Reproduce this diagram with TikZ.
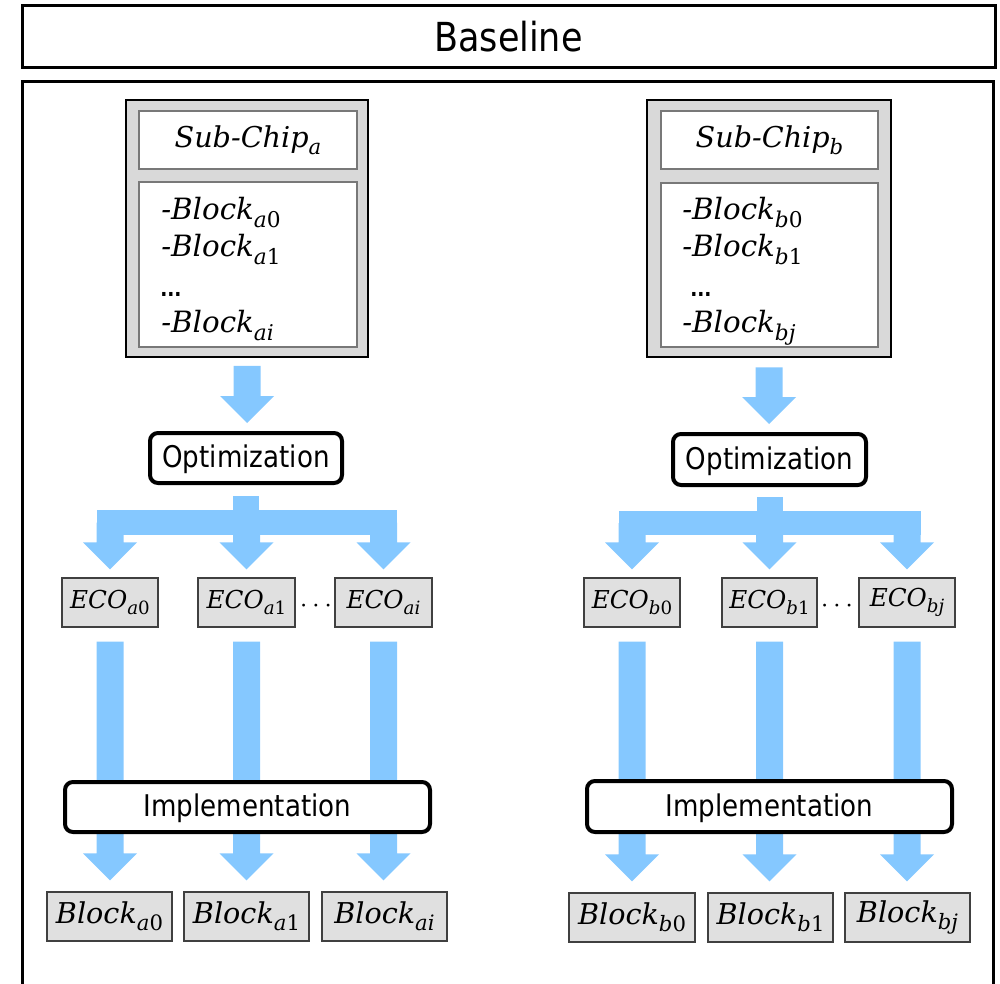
\documentclass[tikz,border=0pt]{standalone}
\usepackage{fontspec}
\usepackage{graphicx}
\newfontfamily\labelfont[FakeStretch=0.875]{DejaVu Sans}
\newfontfamily\varfont{DejaVu Serif}
\usetikzlibrary{calc}

\definecolor{flowblue}{RGB}{133,200,255}
\definecolor{shellgray}{RGB}{217,217,217}
\definecolor{panegray}{RGB}{120,120,120}
\definecolor{itemfill}{RGB}{224,224,224}

% italic variable name with a lowered, reduced subscript (letter italic, digit upright)
\newcommand\subpart[1]{\raisebox{-0.25em}{\scalebox{0.74}{#1}}}
\newcommand\varlab[3]{{\varfont\itshape #1}\subpart{{\varfont\itshape #2}{\varfont #3}}}
\newcommand\dashlab[3]{{\varfont\itshape -}\varlab{#1}{#2}{#3}}

% wide downward arrow from a start point to a tip point (x taken from the start)
\newcommand\fatdown[2]{%
  \fill[flowblue] let \p1=#1, \p2=#2 in
    (\x1-10.125pt,\y1) -- (\x1+10.125pt,\y1) -- (\x1+10.125pt,\y2+20.25pt)
    -- (\x1+20.25pt,\y2+20.25pt) -- (\x1,\y2) -- (\x1-20.25pt,\y2+20.25pt)
    -- (\x1-10.125pt,\y2+20.25pt) -- cycle;}

\begin{document}
\begin{tikzpicture}[x=0.75pt,y=-0.75pt,
  sz/.style 2 args={minimum width=#1*0.75pt, minimum height=#2*0.75pt},
  titlebox/.style={draw, line width=2.25pt, inner sep=0pt,
    font=\labelfont\fontsize{30}{36}\selectfont},
  shellbox/.style={draw=black, fill=shellgray, line width=1.5pt, inner sep=0pt},
  panebox/.style={draw=panegray, fill=white, line width=0.8pt, inner sep=0pt,
    font=\fontsize{21.5}{26}\selectfont},
  listtext/.style={inner sep=0pt, font=\fontsize{22}{27}\selectfont},
  listdots/.style={inner sep=0pt, font=\labelfont\bfseries\fontsize{16}{20}\selectfont},
  stage/.style={draw, line width=3pt, rounded corners=6pt, fill=white, inner sep=0pt,
    text depth=2.5pt, font=\labelfont\fontsize{22.4}{27}\selectfont},
  ecobox/.style={draw=black!75, fill=itemfill, line width=0.8pt, inner sep=0pt,
    font=\fontsize{18.5}{22}\selectfont},
  blkbox/.style={draw=black!75, fill=itemfill, line width=0.8pt, inner sep=0pt,
    font=\fontsize{21.5}{26}\selectfont},
  gapdots/.style={inner sep=0pt, font=\fontsize{19.5}{23}\selectfont}]

\useasboundingbox (0,0) rectangle (1000,984);
\clip (0,0) rectangle (1000,984);

% header and outer frame
\node[titlebox, sz={973}{62}] (base) at (508.5,37) {Baseline};
\draw[line width=2.25pt] (22,82) rectangle (993,1010);

% ---------- sub-chip a ----------
\node[shellbox, sz={242}{257}] (sca) at (247,228.5) {};
\node[panebox, sz={218}{58}] (scat) at (248,140) {\varlab{Sub-Chip}{a}{}};
\node[panebox, sz={218}{165}] (scal) at (248,264.5) {};
\node[listtext, anchor=base west] (la0) at (161,220) {\dashlab{Block}{a}{0}};
\node[listtext, anchor=base west] (la1) at (161,257) {\dashlab{Block}{a}{1}};
\node[listdots, anchor=base west] (lad) at (160,297) {...};
\node[listtext, anchor=base west] (lai) at (161,333) {\dashlab{Block}{ai}{}};

% ---------- sub-chip b ----------
\node[shellbox, sz={244}{257}] (scb) at (769,228.5) {};
\node[panebox, sz={217}{58}] (scbt) at (769.5,140) {\varlab{Sub-Chip}{b}{}};
\node[panebox, sz={217}{164}] (scbl) at (769.5,265) {};
\node[listtext, anchor=base west] (lb0) at (682,220) {\dashlab{Block}{b}{0}};
\node[listtext, anchor=base west] (lb1) at (682,257) {\dashlab{Block}{b}{1}};
\node[listdots, anchor=base west] (lbd) at (690,297) {...};
\node[listtext, anchor=base west] (lbj) at (682,333) {\dashlab{Block}{bj}{}};

% ---------- optimization steps ----------
\node[stage, sz={192}{50}] (opta) at (246,458) {Optimization};
\node[stage, sz={193}{51}] (optb) at (769.5,459.5) {Optimization};

% ---------- ECO items ----------
\node[ecobox, sz={96}{49}] (ecoa0) at (110,602.5) {\varlab{ECO}{a}{0}};
\node[ecobox, sz={97}{49}] (ecoa1) at (246.5,602.5) {\varlab{ECO}{a}{1}};
\node[ecobox, sz={97}{49}] (ecoai) at (383.5,602.5) {\varlab{ECO}{ai}{}};
\node[gapdots] (dota) at (316,606) {$\cdots$};
\node[ecobox, sz={96}{49}] (ecob0) at (632,602.5) {\varlab{ECO}{b}{0}};
\node[ecobox, sz={95}{49}] (ecob1) at (769.5,602.5) {\varlab{ECO}{b}{1}};
\node[ecobox, sz={96}{49}] (ecobj) at (907,602.5) {\varlab{ECO}{bj}{}};
\node[gapdots] (dotb) at (837,606) {$\cdots$};

% ---------- resulting blocks ----------
\node[blkbox, sz={125}{49}] (blka0) at (109.5,916.5) {\varlab{Block}{a}{0}};
\node[blkbox, sz={125}{49}] (blka1) at (246.5,916.5) {\varlab{Block}{a}{1}};
\node[blkbox, sz={125}{49}] (blkai) at (384.5,916.5) {\varlab{Block}{ai}{}};
\node[blkbox, sz={126}{49}] (blkb0) at (632,917.5) {\varlab{Block}{b}{0}};
\node[blkbox, sz={125}{49}] (blkb1) at (770.5,917.5) {\varlab{Block}{b}{1}};
\node[blkbox, sz={125}{49}] (blkbj) at (907.5,917.5) {\varlab{Block}{bj}{}};

% ---------- flow arrows ----------
\fatdown{([yshift=-6pt]sca.south)}{([yshift=6pt]opta.north)}
\fatdown{([yshift=-7pt]scb.south)}{([yshift=6pt]optb.north)}

% fan-out from optimization a
\coordinate (bara) at (246,522.5);
\fill[flowblue] let \p1=([yshift=-8.25pt]opta.south), \p2=(bara) in
  (\x1-9.75pt,\y1) rectangle (\x1+9.75pt,\y2);
\fill[flowblue] let \p1=(ecoa0), \p2=(ecoai), \p3=(bara) in
  (\x1-10.125pt,\y3+9.375pt) rectangle (\x2+10.125pt,\y3-9.375pt);
\fatdown{(ecoa0 |- bara)}{([yshift=6pt]ecoa0.north)}
\fatdown{(ecoa1 |- bara)}{([yshift=6pt]ecoa1.north)}
\fatdown{(ecoai |- bara)}{([yshift=6pt]ecoai.north)}

% fan-out from optimization b
\coordinate (barb) at (769,523);
\fill[flowblue] let \p1=([yshift=-7.5pt]optb.south), \p2=(barb) in
  (\x1-9.75pt,\y1) rectangle (\x1+9.75pt,\y2);
\fill[flowblue] let \p1=(ecob0), \p2=(ecobj), \p3=(barb) in
  (\x1-10.125pt,\y3+9pt) rectangle (\x2+10.125pt,\y3-9pt);
\fatdown{(ecob0 |- barb)}{([yshift=6pt]ecob0.north)}
\fatdown{(ecob1 |- barb)}{([yshift=6pt]ecob1.north)}
\fatdown{(ecobj |- barb)}{([yshift=6pt]ecobj.north)}

% ECO items down to implemented blocks
\fatdown{([yshift=-10.5pt]ecoa0.south)}{([yshift=8.25pt]blka0.north)}
\fatdown{([yshift=-10.5pt]ecoa1.south)}{([yshift=8.25pt]blka1.north)}
\fatdown{([yshift=-10.5pt]ecoai.south)}{([yshift=8.25pt]blkai.north)}
\fatdown{([yshift=-10.5pt]ecob0.south)}{([yshift=8.25pt]blkb0.north)}
\fatdown{([yshift=-10.5pt]ecob1.south)}{([yshift=8.25pt]blkb1.north)}
\fatdown{([yshift=-10.5pt]ecobj.south)}{([yshift=8.25pt]blkbj.north)}

% ---------- implementation steps (over the arrows) ----------
\node[stage, sz={365}{50}] (impa) at (247.5,807) {Implementation};
\node[stage, sz={365}{51}] (impb) at (769.5,806.5) {Implementation};

\end{tikzpicture}
\end{document}
